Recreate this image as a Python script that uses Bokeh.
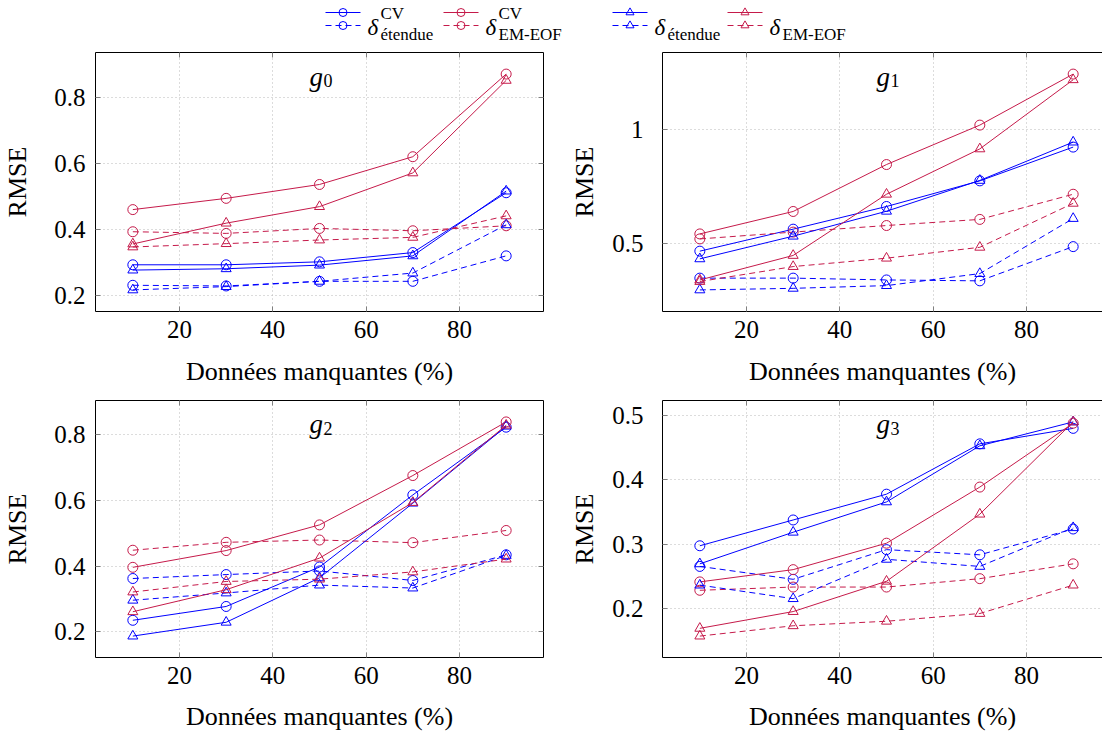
from bokeh.plotting import figure
from bokeh.layouts import column, row
from bokeh.models import Range1d, FixedTicker, LinearAxis, Label, CustomJSTickFormatter
from bokeh.core.properties import value
from bokeh.embed import file_html
from bokeh.resources import INLINE

# ---------------- data ----------------
x_values = [10, 30, 50, 70, 90]
x_ticks = [20, 40, 60, 80]
x_label = "Données manquantes (%)"
y_label = "RMSE"

g0_cv_etendue_solid = [0.294, 0.294, 0.303, 0.331, 0.512]
g0_cv_etendue_dashed = [0.232, 0.230, 0.244, 0.244, 0.321]
g0_cv_emeof_solid = [0.461, 0.495, 0.537, 0.621, 0.871]
g0_cv_emeof_dashed = [0.394, 0.389, 0.404, 0.397, 0.412]
g0_etendue_solid = [0.278, 0.282, 0.293, 0.321, 0.517]
g0_etendue_dashed = [0.218, 0.228, 0.244, 0.269, 0.415]
g0_emeof_solid = [0.357, 0.420, 0.470, 0.572, 0.852]
g0_emeof_dashed = [0.348, 0.358, 0.369, 0.377, 0.442]
g0_yticks = [0.2, 0.4, 0.6, 0.8]

g1_cv_etendue_solid = [0.465, 0.562, 0.662, 0.775, 0.924]
g1_cv_etendue_dashed = [0.346, 0.346, 0.338, 0.334, 0.485]
g1_cv_emeof_solid = [0.541, 0.640, 0.847, 1.021, 1.246]
g1_cv_emeof_dashed = [0.519, 0.549, 0.578, 0.605, 0.716]
g1_etendue_solid = [0.431, 0.531, 0.641, 0.777, 0.946]
g1_etendue_dashed = [0.294, 0.301, 0.313, 0.366, 0.609]
g1_emeof_solid = [0.338, 0.446, 0.716, 0.916, 1.221]
g1_emeof_dashed = [0.331, 0.397, 0.434, 0.482, 0.676]
g1_yticks = [0.5, 1]

g2_cv_etendue_solid = [0.235, 0.277, 0.397, 0.616, 0.822]
g2_cv_etendue_dashed = [0.362, 0.374, 0.385, 0.356, 0.434]
g2_cv_emeof_solid = [0.396, 0.447, 0.525, 0.675, 0.838]
g2_cv_emeof_dashed = [0.448, 0.472, 0.479, 0.471, 0.508]
g2_etendue_solid = [0.187, 0.229, 0.364, 0.591, 0.825]
g2_etendue_dashed = [0.296, 0.318, 0.342, 0.333, 0.432]
g2_emeof_solid = [0.261, 0.328, 0.424, 0.593, 0.828]
g2_emeof_dashed = [0.321, 0.353, 0.360, 0.382, 0.421]
g2_yticks = [0.2, 0.4, 0.6, 0.8]

g3_cv_etendue_solid = [0.298, 0.338, 0.378, 0.456, 0.480]
g3_cv_etendue_dashed = [0.266, 0.246, 0.292, 0.284, 0.324]
g3_cv_emeof_solid = [0.242, 0.261, 0.302, 0.389, 0.488]
g3_cv_emeof_dashed = [0.229, 0.234, 0.234, 0.247, 0.270]
g3_etendue_solid = [0.270, 0.319, 0.366, 0.453, 0.490]
g3_etendue_dashed = [0.237, 0.216, 0.277, 0.266, 0.326]
g3_emeof_solid = [0.170, 0.196, 0.243, 0.347, 0.490]
g3_emeof_dashed = [0.158, 0.174, 0.181, 0.193, 0.237]
g3_yticks = [0.2, 0.3, 0.4, 0.5]

legend_labels = [("CV", "étendue"), ("CV", "EM-EOF"), ("", "étendue"), ("", "EM-EOF")]

# ---------------- style ----------------
BLUE = "#0000FF"
RED = "#C51A4A"
FONT = "Liberation Serif"
DASH = "6 4"
TICK_COLOR = "#808080"
GRID_COLOR = "#b8b8b8"

methods = [("cv_etendue", BLUE, "circle"), ("cv_emeof", RED, "circle"),
           ("etendue", BLUE, "triangle"), ("emeof", RED, "triangle")]

panels = [
    dict(idx=0, yticks=g0_yticks, data={
        ("cv_etendue", "solid"): g0_cv_etendue_solid, ("cv_etendue", "dashed"): g0_cv_etendue_dashed,
        ("cv_emeof", "solid"): g0_cv_emeof_solid, ("cv_emeof", "dashed"): g0_cv_emeof_dashed,
        ("etendue", "solid"): g0_etendue_solid, ("etendue", "dashed"): g0_etendue_dashed,
        ("emeof", "solid"): g0_emeof_solid, ("emeof", "dashed"): g0_emeof_dashed}),
    dict(idx=1, yticks=g1_yticks, data={
        ("cv_etendue", "solid"): g1_cv_etendue_solid, ("cv_etendue", "dashed"): g1_cv_etendue_dashed,
        ("cv_emeof", "solid"): g1_cv_emeof_solid, ("cv_emeof", "dashed"): g1_cv_emeof_dashed,
        ("etendue", "solid"): g1_etendue_solid, ("etendue", "dashed"): g1_etendue_dashed,
        ("emeof", "solid"): g1_emeof_solid, ("emeof", "dashed"): g1_emeof_dashed}),
    dict(idx=2, yticks=g2_yticks, data={
        ("cv_etendue", "solid"): g2_cv_etendue_solid, ("cv_etendue", "dashed"): g2_cv_etendue_dashed,
        ("cv_emeof", "solid"): g2_cv_emeof_solid, ("cv_emeof", "dashed"): g2_cv_emeof_dashed,
        ("etendue", "solid"): g2_etendue_solid, ("etendue", "dashed"): g2_etendue_dashed,
        ("emeof", "solid"): g2_emeof_solid, ("emeof", "dashed"): g2_emeof_dashed}),
    dict(idx=3, yticks=g3_yticks, data={
        ("cv_etendue", "solid"): g3_cv_etendue_solid, ("cv_etendue", "dashed"): g3_cv_etendue_dashed,
        ("cv_emeof", "solid"): g3_cv_emeof_solid, ("cv_emeof", "dashed"): g3_cv_emeof_dashed,
        ("etendue", "solid"): g3_etendue_solid, ("etendue", "dashed"): g3_etendue_dashed,
        ("emeof", "solid"): g3_emeof_solid, ("emeof", "dashed"): g3_emeof_dashed}),
]

FULL_FRAME_W = 448
FRAME_H = 259


def make_panel(panel):
    idx = panel["idx"]
    is_right = idx % 2 == 1
    top_row = idx < 2
    allv = [v for arr in panel["data"].values() for v in arr]
    ymin, ymax = min(allv), max(allv)
    ypad = 0.1 * (ymax - ymin)
    y0, y1 = ymin - ypad, ymax + ypad
    xpad = 0.1 * (max(x_values) - min(x_values))
    x0, x1_full = min(x_values) - xpad, max(x_values) + xpad

    if is_right:
        frame_w = 440
        mbl, mbr = 110, 0
    else:
        frame_w = FULL_FRAME_W
        mbl, mbr = 95, 9
    x1 = x0 + (x1_full - x0) * frame_w / FULL_FRAME_W
    if top_row:
        mbt, mbb = 8, 79
    else:
        mbt, mbb = 10, 74

    p = figure(width=mbl + frame_w + mbr, height=mbt + FRAME_H + mbb,
               x_range=Range1d(x0, x1), y_range=Range1d(y0, y1),
               toolbar_location=None, output_backend="svg",
               min_border_left=mbl, min_border_right=mbr,
               min_border_top=mbt, min_border_bottom=mbb)
    p.outline_line_color = None
    p.background_fill_color = "white"
    p.border_fill_color = "white"

    # grid
    p.xgrid.ticker = FixedTicker(ticks=x_ticks)
    p.ygrid.ticker = FixedTicker(ticks=panel["yticks"])
    for g in (p.xgrid, p.ygrid):
        g.grid_line_color = GRID_COLOR
        g.grid_line_dash = "1 3"
        g.grid_line_width = 1

    # main axes
    xa = p.xaxis[0]
    ya = p.yaxis[0]
    xa.ticker = FixedTicker(ticks=x_ticks)
    ya.ticker = FixedTicker(ticks=panel["yticks"])
    xa.formatter = CustomJSTickFormatter(code="return String(tick)")
    ya.formatter = CustomJSTickFormatter(code="return String(tick)")
    for ax in (xa, ya):
        ax.axis_line_color = "black"
        ax.axis_line_width = 1
        ax.major_tick_in = 5
        ax.major_tick_out = 0
        ax.major_tick_line_color = TICK_COLOR
        ax.minor_tick_line_color = None
        ax.major_label_text_font = FONT
        ax.major_label_text_font_size = "25px"
        ax.major_label_text_color = "black"
        ax.axis_label_text_font = FONT
        ax.axis_label_text_font_size = "26px"
        ax.axis_label_text_font_style = "normal"
        ax.axis_label_text_color = "black"
    xa.axis_label = x_label
    ya.axis_label = y_label
    xa.major_label_standoff = 9
    xa.axis_label_standoff = 16 if top_row else 15
    ya.major_label_standoff = 19 if is_right else 10
    ya.axis_label_standoff = 10 if is_right else 19

    # mirrored axes (frame lines + inward ticks)
    extra = [("above", x_ticks)]
    if not is_right:
        extra.append(("right", panel["yticks"]))
    for loc, ticks in extra:
        ax = LinearAxis(ticker=FixedTicker(ticks=ticks),
                        formatter=CustomJSTickFormatter(code="return ''"))
        ax.axis_line_color = "black"
        ax.axis_line_width = 1
        ax.major_tick_in = 5
        ax.major_tick_out = 0
        ax.major_tick_line_color = TICK_COLOR
        ax.minor_tick_line_color = None
        ax.major_label_text_font_size = "0px"
        ax.major_label_standoff = 0
        p.add_layout(ax, loc)

    # series
    for key, color, marker in methods:
        for style in ("solid", "dashed"):
            ys = panel["data"][(key, style)]
            dash = "solid" if style == "solid" else DASH
            p.line(x_values, ys, line_color=color, line_width=1, line_dash=dash)
            p.scatter(x_values, ys, marker=marker, size=10,
                      line_color=color, line_width=1, fill_color=None)

    # panel title g_i, inside the frame at top centre
    pxu = FULL_FRAME_W / (x1_full - x0)
    pyu = FRAME_H / (y1 - y0)
    xmid = (min(x_values) + max(x_values)) / 2
    p.add_layout(Label(x=xmid - 10 / pxu, y=y1 - 24 / pyu, text="g",
                       text_font=FONT, text_font_style="italic", text_font_size="27px",
                       text_baseline="alphabetic", text_align="left", text_color="black"))
    p.add_layout(Label(x=xmid + 4 / pxu, y=y1 - 28 / pyu, text=str(idx),
                       text_font=FONT, text_font_size="18px",
                       text_baseline="alphabetic", text_align="left", text_color="black"))
    return p


figs = [make_panel(pn) for pn in panels]

# ---------------- legend ----------------
LEG_W, LEG_H = 1102, 44
leg = figure(width=LEG_W, height=LEG_H, x_range=Range1d(0, LEG_W), y_range=Range1d(LEG_H, 0),
             toolbar_location=None, output_backend="svg", x_axis_location=None,
             y_axis_location=None, min_border=0)
leg.outline_line_color = None
leg.grid.visible = False

entry_x = [325, 443, 612, 727]
LINE_LEN = 35
for (key, color, marker), (sup, sub), ex in zip(methods, legend_labels, entry_x):
    for ly, dash in ((12, "solid"), (25, DASH)):
        leg.line([ex, ex + LINE_LEN], [ly, ly], line_color=color, line_width=1, line_dash=dash)
        leg.scatter([ex + LINE_LEN / 2], [ly], marker=marker, size=8, line_color=color,
                    line_width=1, fill_color=None)
    dx = ex + LINE_LEN + 7
    sx = dx + 13
    leg.text([dx], [26.5], text=["δ"], text_font=value(FONT), text_font_size=value("23px"),
             text_font_style=value("italic"), text_baseline=value("alphabetic"), text_color="black")
    if sup:
        leg.text([sx], [13], text=[sup], text_font=value(FONT), text_font_size=value("17px"),
                 text_baseline=value("alphabetic"), text_color="black")
    leg.text([sx], [34], text=[sub], text_font=value(FONT), text_font_size=value("17px"),
             text_baseline=value("alphabetic"), text_color="black")

layout = column(leg, row(figs[0], figs[1]), row(figs[2], figs[3]))
open("out.html", "w").write(file_html(layout, INLINE))
